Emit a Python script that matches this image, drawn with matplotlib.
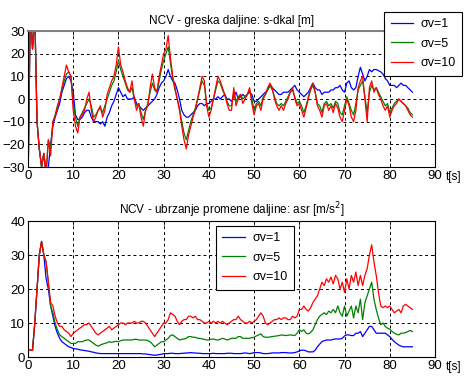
import numpy as np
import matplotlib
matplotlib.use("Agg")
import matplotlib.pyplot as plt

plt.rcParams['font.family'] = ['Liberation Sans', 'DejaVu Sans']
plt.rcParams['font.size'] = 8.5

"""
Data (sampled every 0.5 s, 0..85 s)
"""
t = np.arange(0, 85.01, 0.5)
labels = ['σv=1', 'σv=5', 'σv=10']

# greska daljine s-dkal [m]
err_v1 = [-40, 40, 22, 38, -10, -22, -30, -24, -33, -30,
          -20, -12, -8, -5, -2, 3, 6, 9, 10, 8,
          3, -7, -9, -9, -8, -6, -5, -5, -8, -10,
          -10, -10, -11, -10, -12, -8, -6, -3, -1, 2,
          5, 3, 1, 2, 0, 0, 0, 1, -2, -3,
          -4, -5, -4, -3, -2, -1, 0, 2, 5, 7,
          8, 10, 13, 10, 8, 7, 4, 0, -5, -7,
          -8, -8, -7, -6, -5, -3, -2, -2, -3, -2,
          -2, -1, 0, 0, 1, 0, 1, 2, 0, 0,
          -1, 1, 3, 0, 1, 2, 1, 2, 3, 2,
          -1, -1, 0, 1, 2, 3, 4, 6, 5, 4,
          3, 2, 2, 3, 3, 3, 4, 5, 6, 4,
          3, 2, 1, 2, 3, 5, 7, 5, 4, 4,
          2, 3, 3, 3, 4, 4, 5, 5, 6, 4,
          3, 7, 8, 5, 4, 5, 10, 14, 11, 8,
          10, 13, 12, 13, 13, 12.5, 12, 11, 9, 8,
          6, 6, 6, 5, 6, 7, 6, 6, 5, 4,
          3]
err_v5 = [-40, 40, 22, 38, -10, -22, -30, -24, -33, -18,
          -22, -10, -7, -3, 0, 4, 8, 11, 12, 10,
          -2, -8, -12, -8, -6, -4, -2, 0, -3, -8,
          -7, -5, -4, -6, -3, 0, 3, 6, 8, 12,
          17, 13, 10, 7, 4, 3, 5, 0, -3, -2,
          -6, -9, -5, -2, 3, 7, 4, 3, 8, 13,
          17, 20, 23, 16, 9, 4, 0, -4, -10, -15,
          -18, -14, -10, -7, -4, 0, 4, 8, 6, -2,
          -5, -4, 0, 4, 8, 7, 4, 2, -1, -3,
          -3, 3, -1, 1, 2, 0, 1, 2, 4, 0,
          -5, -2, -1, -3, 1, 2, 4, 6, 4, 1,
          -2, -3, -2, -3, -1, 1, 3, 4, 1, -2,
          -1, -3, -6, -3, 1, 4, 6, 3, -2, -3,
          -6, -2, -1, -3, -2, -4, -1, -2, -6, -7,
          -3, 1, -2, -5, -7, -2, 4, 6, 8, 1,
          -6, 3, 6, 4, 5, 3, 1, -1, -3, -2,
          -6, -4, -2, -1, 0, -1, -2, -3, -4, -6,
          -7]
err_v10 = [-40, 40, 22, 38, -10, -22, -30, -24, -33, -18,
           -25, -10, -8, -4, 0, 5, 10, 15, 12, 10,
           -5, -12, -15, -8, -7, -5, 0, 3, -5, -10,
           -8, -5, -3, -8, -5, 2, 5, 8, 10, 15,
           23, 15, 12, 8, 5, 3, 8, 0, -5, -2,
           -8, -12, -5, -3, 5, 11, 5, 3, 10, 15,
           20, 22, 28, 18, 10, 5, 0, -5, -12, -18,
           -22, -16, -12, -8, -5, 0, 5, 10, 8, -3,
           -8, -5, 0, 5, 10, 8, 5, 2, -2, -5,
           -5, 5, -3, 0, 2, -2, 0, 2, 5, -2,
           -7, -3, -2, -5, 0, 2, 5, 7, 5, 0,
           -3, -5, -3, -5, -2, 0, 3, 5, 0, -3,
           -2, -5, -8, -4, 0, 5, 7, 3, -3, -5,
           -8, -3, -2, -5, -3, -6, -2, -4, -8, -10,
           -5, 0, -3, -8, -10, -5, 5, 8, 10, 0,
           -10, 5, 8, 3, 5, 2, 0, -3, -5, -3,
           -8, -5, -3, -2, 0, -1, -2, -3, -5, -7,
           -8]

# ubrzanje promene daljine asr [m/s^2]
acc_v1 = [2, 2, 2, 10, 20, 30, 34, 30, 23, 20,
          15, 12, 9, 7, 5.5, 4.5, 4, 3.5, 3, 2.8,
          2.5, 2.4, 2.3, 2.1, 2, 1.9, 1.8, 1.7, 1.5, 1.4,
          1.2, 1.1, 1, 1, 1, 1, 1, 1, 1, 1,
          1, 1, 1, 1, 1, 1, 1, 1, 1, 1,
          1, 0.9, 0.9, 0.8, 0.7, 0.6, 0.5, 0.6, 0.7, 0.8,
          1, 1, 1, 1.1, 1.1, 1, 1, 1, 1.1, 1.1,
          1.2, 1.2, 1.3, 1.2, 1.2, 1.1, 1.1, 1, 1, 1,
          1, 1, 1.1, 1, 1, 1, 1, 1, 1.1, 1.1,
          1.1, 1, 1, 1, 1, 1.1, 1.2, 1.1, 1, 1.1,
          1.3, 1.3, 1.3, 1.2, 1, 1, 1, 1.1, 1.2, 1.2,
          1.2, 1.2, 1.3, 1.3, 1.3, 1.2, 1.2, 1.2, 1.3, 1.5,
          1.8, 2, 2, 1.8, 1.5, 1.5, 1.5, 2, 3, 3.8,
          4.5, 4.8, 5, 5, 5, 5.2, 5.3, 5.3, 5.3, 5.5,
          6.2, 6.5, 6.5, 6.3, 6.3, 7, 7, 7.5, 6, 7,
          8, 9, 9, 8, 7, 7, 7, 7, 7, 6.5,
          6, 5.2, 4.5, 4, 3.5, 3.2, 3, 3, 3, 3,
          3]
acc_v5 = [2, 2, 2, 10, 20, 30, 34, 30, 28, 22,
          15, 13, 10, 8, 6.5, 6, 5.5, 5, 4.5, 4,
          4, 4, 4.5, 4.5, 4.5, 4.8, 5, 5, 4.5, 4,
          3.5, 3.2, 3.5, 3.8, 4, 4.2, 4.5, 4.3, 4.5, 4.6,
          4.5, 4.8, 5, 5, 5, 5, 5, 5.2, 5.2, 5,
          5, 5, 5, 4.8, 4.5, 3.8, 3, 3.5, 4, 4.5,
          4.5, 5, 5.5, 6.3, 6.5, 6, 5.5, 5, 5.2, 5.3,
          5.5, 6, 6, 5.8, 5.8, 5.5, 5.5, 5.3, 5.2, 5,
          5, 5.2, 5.3, 5.1, 5, 5.2, 5.5, 5.3, 5, 5.2,
          5.5, 5.5, 5.5, 6, 6, 5.5, 5.5, 5.5, 5.5, 5.7,
          5.8, 6.2, 6.5, 6.8, 6, 5.8, 5.8, 5.9, 6, 6.1,
          6.2, 6.3, 6.5, 6.4, 6.3, 6.4, 6.5, 6.4, 6.3, 7,
          8, 7.5, 8, 7, 6.8, 7.2, 8, 9.5, 11, 12,
          12.5, 13, 12.5, 13.5, 13, 14, 13, 15, 13, 12,
          15, 12, 13.5, 15, 11.5, 15, 13, 17, 11, 16,
          18, 20, 22, 17, 14, 11.5, 9.5, 10, 9, 8.5,
          8.2, 7.5, 7, 6.7, 6.5, 7, 7, 7.2, 7.5, 7.8,
          7.5]
acc_v10 = [2, 2, 2, 10, 20, 30, 34, 30, 28, 22,
           16, 15, 12, 10, 9, 9, 8, 7.5, 7, 6,
           7, 7.5, 8, 8.5, 9, 9.5, 9.5, 10, 9, 8,
           7, 6.5, 7, 7.5, 8, 8.5, 9, 8, 8.5, 9,
           9.5, 10, 10, 9.5, 10, 10, 10, 10.5, 10, 10,
           10.5, 10.5, 10, 9, 8, 7, 6, 7, 8, 9,
           10, 10, 11, 13, 12.5, 12, 10.5, 9.5, 10.5, 11,
           11, 12, 12, 11.5, 12, 11, 11, 10.5, 10, 10,
           10.5, 10, 10.5, 10, 10.5, 10, 10.5, 10, 9.5, 10,
           10.5, 11, 11, 12, 11, 10.5, 10, 10, 10.5, 10,
           10.5, 11, 12, 13, 12, 10, 9.5, 10, 10.5, 11,
           11, 11.5, 11, 11.5, 11.5, 11, 11, 12, 11.5, 12,
           14, 14, 15, 14, 13.5, 14.5, 16, 17, 18, 20,
           22, 21, 23, 22, 23.5, 21.5, 24, 23, 20, 22,
           19, 23, 20, 24, 22, 25, 21, 24, 21, 24,
           26, 30, 33, 28, 24, 19, 15, 14.5, 15, 14.5,
           15, 14, 13, 13.5, 14, 13, 15, 15.5, 15, 14.5,
           14]

colors = ['#0000ff', '#008000', '#ff0000']

"""
Figure
"""
fig = plt.figure(figsize=(4.66, 3.79), dpi=100)
ax1 = fig.add_axes([28/466, 1-167/379, 407/466, 136/379])
ax2 = fig.add_axes([28/466, 1-357/379, 407/466, 136/379])


def style_axes(ax, ylim, yticks):
    ax.set_xlim(0, 90)
    ax.set_ylim(*ylim)
    ax.set_xticks(range(0, 91, 10))
    ax.set_yticks(yticks)
    ax.tick_params(direction='in', length=3, width=0.6, top=True, right=True,
                   labelsize=9.5, pad=2)
    ax.grid(True, color='black', linestyle=(0, (3, 3)), linewidth=0.7)
    for s in ax.spines.values():
        s.set_linewidth(0.8)
    ax.text(1.027, -0.075, 't[s]', transform=ax.transAxes, fontsize=8.5,
            ha='left', va='center')


for y, c, lab in zip([err_v1, err_v5, err_v10], colors, labels):
    ax1.plot(t, y, color=c, linewidth=0.9, label=lab)
style_axes(ax1, (-30, 30), range(-30, 31, 10))
ax1.spines['top'].set_color('#808080')
ax1.spines['top'].set_linewidth(1.5)
ax1.set_title('NCV - greska daljine: s-dkal [m]', fontsize=8.5, pad=5)

for y, c, lab in zip([acc_v1, acc_v5, acc_v10], colors, labels):
    ax2.plot(t, y, color=c, linewidth=0.9, label=lab)
style_axes(ax2, (0, 40), range(0, 41, 10))
ax2.set_title('NCV - ubrzanje promene daljine: asr [m/s$^2$]', fontsize=8.5, pad=5)

leg_kw = dict(frameon=True, fancybox=False, edgecolor='black', framealpha=1,
              fontsize=9, labelspacing=0.6, handlelength=1.8,
              handletextpad=0.6, borderpad=0.5, borderaxespad=0)
leg1 = ax1.legend(loc='upper right', bbox_to_anchor=(462/466, 1-12/379),
                  bbox_transform=fig.transFigure, **leg_kw)
leg2 = ax2.legend(loc='upper left', bbox_to_anchor=(216/466, 1-226/379),
                  bbox_transform=fig.transFigure, **leg_kw)
for leg in (leg1, leg2):
    leg.get_frame().set_linewidth(0.8)
    leg.set_zorder(10)

plt.savefig("out.png", dpi=100)
